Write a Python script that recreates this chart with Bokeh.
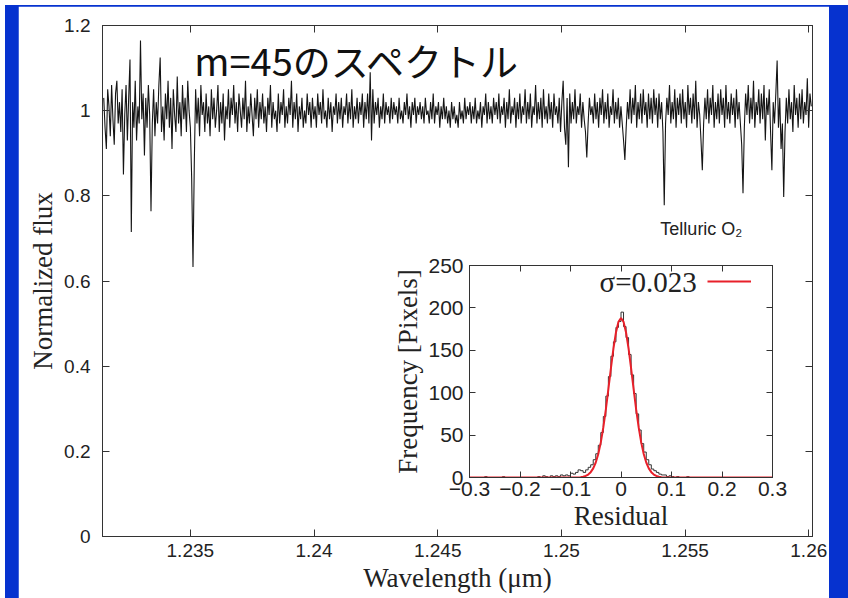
import numpy as np
from bokeh.plotting import figure
from bokeh.models import (Div, Label, Legend, LegendItem, LinearAxis, FixedTicker,
                          NumeralTickFormatter, CustomJSTickFormatter, Range1d)
from bokeh.embed import file_html
from bokeh.resources import INLINE

# ---------------- data ----------------
title_text = "m=45のスペクトル"
telluric_text = "Telluric O₂"
sigma_text = "σ=0.023"

wl_start, wl_end = 1.2315, 1.2601
flux = [
    1.03, 0.96, 0.91, 1.05, 1.01, 0.94, 1.06, 0.98, 0.92, 1.04, 1.07, 0.97, 1.02, 0.95, 1.05, 0.85, 0.99, 1.06, 0.93, 1.03,
    1.12, 0.715, 1.02, 0.96, 1.07, 0.93, 1.01, 0.97, 1.165, 0.98, 1.04, 0.895, 1.03, 0.96, 1.06, 0.99, 0.764, 0.97, 1.05, 0.94,
    1.02, 0.97, 1.06, 1.125, 0.95, 1.01, 0.93, 1.04, 0.98, 1.07, 0.96, 1.03, 0.91, 1.05, 0.99, 0.95, 1.08, 0.97, 1.02, 0.94,
    1.06, 0.98, 1.03, 0.95, 1.07, 1.00, 0.96, 0.84, 0.633, 0.88, 1.05, 0.97, 1.03, 0.94, 1.06, 0.99, 1.02, 0.95, 1.04, 0.97,
    1.01, 0.94, 1.05, 0.98, 1.03, 0.96, 1.00, 1.06, 0.95, 1.02, 0.97, 1.04, 0.93, 1.01, 0.98, 1.05, 0.96, 1.03, 0.99, 1.06,
    0.97, 1.02, 0.95, 1.04, 1.00, 0.96, 1.03, 0.98, 1.07, 0.95, 1.01, 0.97, 1.04, 0.99, 0.94, 1.03, 0.98, 1.05, 0.96, 1.02,
    0.98, 1.04, 0.97, 1.01, 0.95, 1.03, 0.99, 1.06, 0.96, 1.02, 0.98, 1.00, 0.95, 1.04, 0.97, 1.02, 0.99, 1.05, 0.96, 1.01,
    0.97, 1.03, 0.99, 1.07, 0.96, 1.02, 0.98, 1.04, 0.95, 1.01, 0.98, 1.03, 0.96, 1.00, 0.97, 1.04, 0.99, 1.02, 0.96, 1.03,
    0.98, 1.01, 0.96, 1.04, 0.99, 1.02, 0.97, 1.05, 0.98, 1.00, 0.96, 1.03, 0.98, 1.02, 0.95, 1.01, 0.99, 1.04, 0.97, 1.02,
    0.98, 1.03, 0.96, 1.01, 0.99, 1.04, 0.97, 1.02, 0.98, 1.05, 0.96, 1.01, 0.98, 1.03, 0.97, 1.02, 0.99, 1.04, 0.96, 1.02,
    0.98, 1.04, 0.97, 1.09, 0.93, 1.05, 0.97, 1.02, 0.99, 1.03, 0.96, 1.01, 0.98, 1.04, 0.97, 1.02, 0.99, 1.01, 0.97, 1.03,
    0.98, 1.02, 0.99, 1.01, 0.97, 1.03, 0.98, 1.00, 0.97, 1.02, 0.99, 1.04, 0.98, 1.01, 0.96, 1.02, 0.99, 1.03, 0.97, 1.01,
    0.99, 1.02, 0.98, 1.01, 0.97, 1.03, 0.99, 1.00, 0.97, 1.02, 0.98, 1.04, 0.97, 1.01, 0.99, 1.02, 0.96, 1.01, 0.98, 1.03,
    0.98, 1.01, 0.97, 1.00, 0.96, 1.02, 0.98, 1.01, 0.97, 0.99, 0.96, 1.02, 0.98, 1.00, 0.97, 1.03, 0.98, 1.01, 0.99, 1.02,
    0.97, 1.01, 0.98, 1.03, 0.97, 1.00, 0.98, 1.02, 0.96, 1.01, 0.99, 1.04, 0.97, 1.02, 0.98, 1.01, 0.97, 1.03, 0.99, 1.02,
    0.98, 1.04, 0.97, 1.01, 0.99, 1.03, 0.96, 1.02, 0.98, 1.05, 0.97, 1.01, 0.99, 1.03, 0.96, 1.02, 0.98, 1.04, 0.97, 1.01,
    0.99, 1.05, 0.97, 1.02, 0.98, 1.04, 0.96, 1.01, 0.99, 1.06, 0.97, 1.02, 0.98, 1.03, 0.96, 1.05, 0.98, 1.01, 0.97, 1.04,
    0.98, 1.02, 0.96, 1.04, 0.99, 1.01, 0.97, 1.03, 0.95, 1.02, 1.07, 0.96, 0.92, 1.03, 0.867, 1.04, 0.97, 1.02, 0.98, 1.05,
    0.97, 1.01, 0.99, 1.04, 0.96, 1.02, 0.98, 0.95, 0.89, 0.97, 1.03, 0.99, 1.01, 0.97, 1.04, 0.98, 1.02, 0.96, 1.03, 0.99,
    1.05, 0.97, 1.02, 0.98, 1.04, 0.96, 1.01, 0.99, 1.05, 0.97, 1.02, 0.98, 1.03, 0.96, 1.01, 0.97, 0.93, 0.884, 0.96, 1.02,
    0.98, 1.05, 0.97, 1.03, 0.99, 1.06, 0.96, 1.02, 0.98, 1.04, 0.97, 1.05, 0.99, 1.02, 0.96, 1.04, 0.98, 1.03, 0.97, 1.05,
    0.99, 1.03, 0.96, 1.04, 0.98, 1.02, 0.95, 0.778, 0.97, 1.03, 0.99, 1.06, 0.97, 1.02, 0.98, 1.05, 0.96, 1.03, 0.99, 1.04,
    0.97, 1.05, 0.98, 1.02, 0.96, 1.06, 0.99, 1.03, 0.97, 1.04, 0.98, 1.07, 0.96, 1.02, 0.99, 0.93, 0.86, 0.97, 1.03, 0.98,
    1.05, 0.97, 1.03, 0.99, 1.06, 0.96, 1.02, 0.98, 1.04, 0.97, 1.05, 0.99, 1.03, 0.96, 1.06, 0.98, 1.02, 0.97, 1.04, 0.99,
    1.03, 0.96, 1.05, 0.98, 1.02, 0.97, 0.92, 0.806, 0.96, 1.04, 0.99, 1.06, 0.97, 1.03, 0.98, 1.07, 0.96, 1.02, 0.99, 1.05,
    0.97, 1.04, 0.98, 1.06, 0.93, 1.03, 0.99, 1.05, 0.95, 0.86, 1.02, 0.97, 1.04, 1.118, 0.96, 1.03, 0.91, 0.97, 0.797, 0.95,
    1.03, 0.97, 1.05, 0.98, 1.02, 0.95, 1.06, 0.99, 1.03, 0.96, 1.04, 0.98, 1.05, 0.97, 1.02, 0.99, 1.076, 0.96, 1.04, 1.01,
]
wavelength = np.linspace(wl_start, wl_end, len(flux))

x_ticks = [1.235, 1.24, 1.245, 1.25, 1.255, 1.26]
y_ticks = [0, 0.2, 0.4, 0.6, 0.8, 1.0, 1.2]

# histogram of residuals, bins of 0.005 from -0.3 to 0.3
hist_lo, hist_hi = -0.3, 0.3
hist_counts = [
    0, 0, 0, 0, 0, 0, 1, 0, 0, 0,
    0, 0, 0, 1, 0, 0, 0, 0, 0, 0,
    0, 0, 0, 0, 0, 0, 0, 1, 0, 2,
    1, 0, 2, 1, 2, 1, 3, 2, 3, 2,
    5, 4, 6, 9, 8, 6, 9, 12, 15, 21,
    28, 38, 53, 72, 96, 119, 143, 160, 177, 184,
    195, 178, 165, 145, 121, 99, 75, 56, 40, 30,
    21, 15, 10, 8, 6, 4, 3, 3, 1, 2,
    1, 0, 1, 0, 0, 0, 1, 0, 0, 0,
    0, 0, 0, 0, 0, 0, 0, 0, 0, 0,
    0, 0, 0, 0, 0, 0, 0, 0, 0, 0,
    0, 0, 0, 0, 0, 0, 0, 0, 0, 0,
]
hist_edges = np.linspace(hist_lo, hist_hi, len(hist_counts) + 1)

fit_x = [-0.30, -0.10, -0.09, -0.08, -0.075, -0.07, -0.065, -0.06, -0.055, -0.05, -0.045,
         -0.04, -0.035, -0.03, -0.025, -0.02, -0.015, -0.01, -0.005, 0.0,
         0.005, 0.01, 0.015, 0.02, 0.025, 0.03, 0.035, 0.04, 0.045, 0.05,
         0.055, 0.06, 0.065, 0.07, 0.075, 0.08, 0.09, 0.10, 0.30]
fit_y = [0.0, 0.0, 0.1, 0.4, 0.9, 1.8, 3.5, 6.3, 10.8, 17.7, 27.7,
         41.4, 59.1, 80.3, 104.1, 128.8, 152.0, 171.0, 183.6, 188.0,
         183.6, 171.0, 152.0, 128.8, 104.1, 80.3, 59.1, 41.4, 27.7, 17.7,
         10.8, 6.3, 3.5, 1.8, 0.9, 0.4, 0.1, 0.0, 0.0]

inset_x_ticks = [-0.3, -0.2, -0.1, 0, 0.1, 0.2, 0.3]
inset_y_ticks = [0, 50, 100, 150, 200, 250]

# ---------------- styles ----------------
BLUE = "#0632cf"
AX = "#333333"
SANS = "Liberation Sans"
SERIF = "Liberation Serif"

bg = Div(text="", width=848, height=598,
         styles={"position": "absolute", "left": "0px", "top": "0px",
                 "background-color": BLUE})

main = figure(width=811, height=592,
              x_range=Range1d(1.23145, 1.26015), y_range=Range1d(0, 1.2),
              output_backend="svg", toolbar_location=None,
              min_border_left=84, min_border_right=17,
              min_border_top=19, min_border_bottom=62,
              background_fill_color="white", border_fill_color="white",
              outline_line_color=AX,
              styles={"position": "absolute", "left": "18px", "top": "6px"})
main.grid.visible = False

main.line(wavelength, flux, line_color="#151515", line_width=1.1)


def style_axis(ax, ticks, label_size, show_labels=True):
    ax.ticker = FixedTicker(ticks=ticks)
    ax.major_tick_in = 7
    ax.major_tick_out = 0
    ax.minor_tick_line_color = None
    ax.axis_line_color = AX
    ax.major_tick_line_color = AX
    ax.major_label_text_font = SANS
    if show_labels:
        ax.major_label_text_color = "#222222"
        ax.major_label_text_font_size = label_size
    else:
        ax.major_label_text_color = None
        ax.major_label_text_font_size = "1px"
        ax.major_label_standoff = 0


style_axis(main.xaxis[0], x_ticks, "19px")
main.xaxis[0].formatter = NumeralTickFormatter(format="0.[000]")
main.xaxis[0].axis_label = "Wavelength (μm)"
main.xaxis[0].major_label_standoff = 7
style_axis(main.yaxis[0], y_ticks, "19px")
main.yaxis[0].formatter = NumeralTickFormatter(format="0.[0]")
main.yaxis[0].axis_label = "Normalized flux"
main.yaxis[0].major_label_standoff = 12
for ax in (main.xaxis[0], main.yaxis[0]):
    ax.axis_label_text_font = SERIF
    ax.axis_label_text_font_style = "normal"
    ax.axis_label_text_font_size = "27px"
    ax.axis_label_text_color = "#222222"
    ax.axis_label_standoff = 3

top_ax = LinearAxis()
style_axis(top_ax, x_ticks, "19px", show_labels=False)
main.add_layout(top_ax, "above")
right_ax = LinearAxis()
style_axis(right_ax, y_ticks, "19px", show_labels=False)
main.add_layout(right_ax, "right")

main.add_layout(Label(x=1.23516, y=1.12, text=title_text, text_baseline="middle",
                      text_font="Noto Sans CJK JP", text_font_size="38px",
                      text_color="#111111"))
main.add_layout(Label(x=1.2540, y=0.722, text=telluric_text, text_baseline="middle",
                      text_font=SANS, text_font_size="18px", text_color="#222222"))

# ---------------- inset ----------------
inset = figure(width=400, height=291,
               x_range=Range1d(-0.3, 0.3), y_range=Range1d(0, 250),
               output_backend="svg", toolbar_location=None,
               min_border_left=79, min_border_right=18,
               min_border_top=15, min_border_bottom=64,
               background_fill_color="white", background_fill_alpha=0,
               border_fill_alpha=0, outline_line_color=AX,
               styles={"position": "absolute", "left": "390px", "top": "250px",
                       "z-index": "2"})
inset.grid.visible = False

inset.step(hist_edges, hist_counts + [hist_counts[-1]], mode="after",
           line_color="#333333", line_width=1)
fit_r = inset.line(fit_x, fit_y, line_color="#e8202a", line_width=2)

style_axis(inset.xaxis[0], inset_x_ticks, "21px")
inset.xaxis[0].formatter = CustomJSTickFormatter(
    code="if (Math.abs(tick) < 1e-9) return '0';"
         " return (tick < 0 ? '\u2212' : '') + Math.abs(tick).toFixed(1);")
inset.xaxis[0].axis_label = "Residual"
inset.xaxis[0].major_label_standoff = 4
style_axis(inset.yaxis[0], inset_y_ticks, "21px")
inset.yaxis[0].axis_label = "Frequency [Pixels]"
inset.yaxis[0].major_label_standoff = 6
for ax in (inset.xaxis[0], inset.yaxis[0]):
    ax.major_tick_in = 6
    ax.axis_label_text_font = SERIF
    ax.axis_label_text_font_style = "normal"
    ax.axis_label_text_font_size = "27px"
    ax.axis_label_text_color = "#222222"
    ax.axis_label_standoff = 2

itop = LinearAxis()
style_axis(itop, inset_x_ticks, "21px", show_labels=False)
itop.major_tick_in = 6
inset.add_layout(itop, "above")
iright = LinearAxis()
style_axis(iright, inset_y_ticks, "21px", show_labels=False)
iright.major_tick_in = 6
inset.add_layout(iright, "right")

legend = Legend(items=[LegendItem(label=" ", renderers=[fit_r])],
                location=(238, 186), glyph_width=44, glyph_height=20,
                label_width=0, label_standoff=0, padding=0, margin=0,
                background_fill_alpha=0, border_line_alpha=0,
                label_text_font_size="10px")
inset.add_layout(legend)
inset.add_layout(Label(x=0.15, y=231, text=sigma_text, text_align="right",
                       text_baseline="middle", text_font=SERIF,
                       text_font_size="29px", text_color="#222222"))

open("out.html", "w").write(file_html((bg, main, inset), INLINE))
